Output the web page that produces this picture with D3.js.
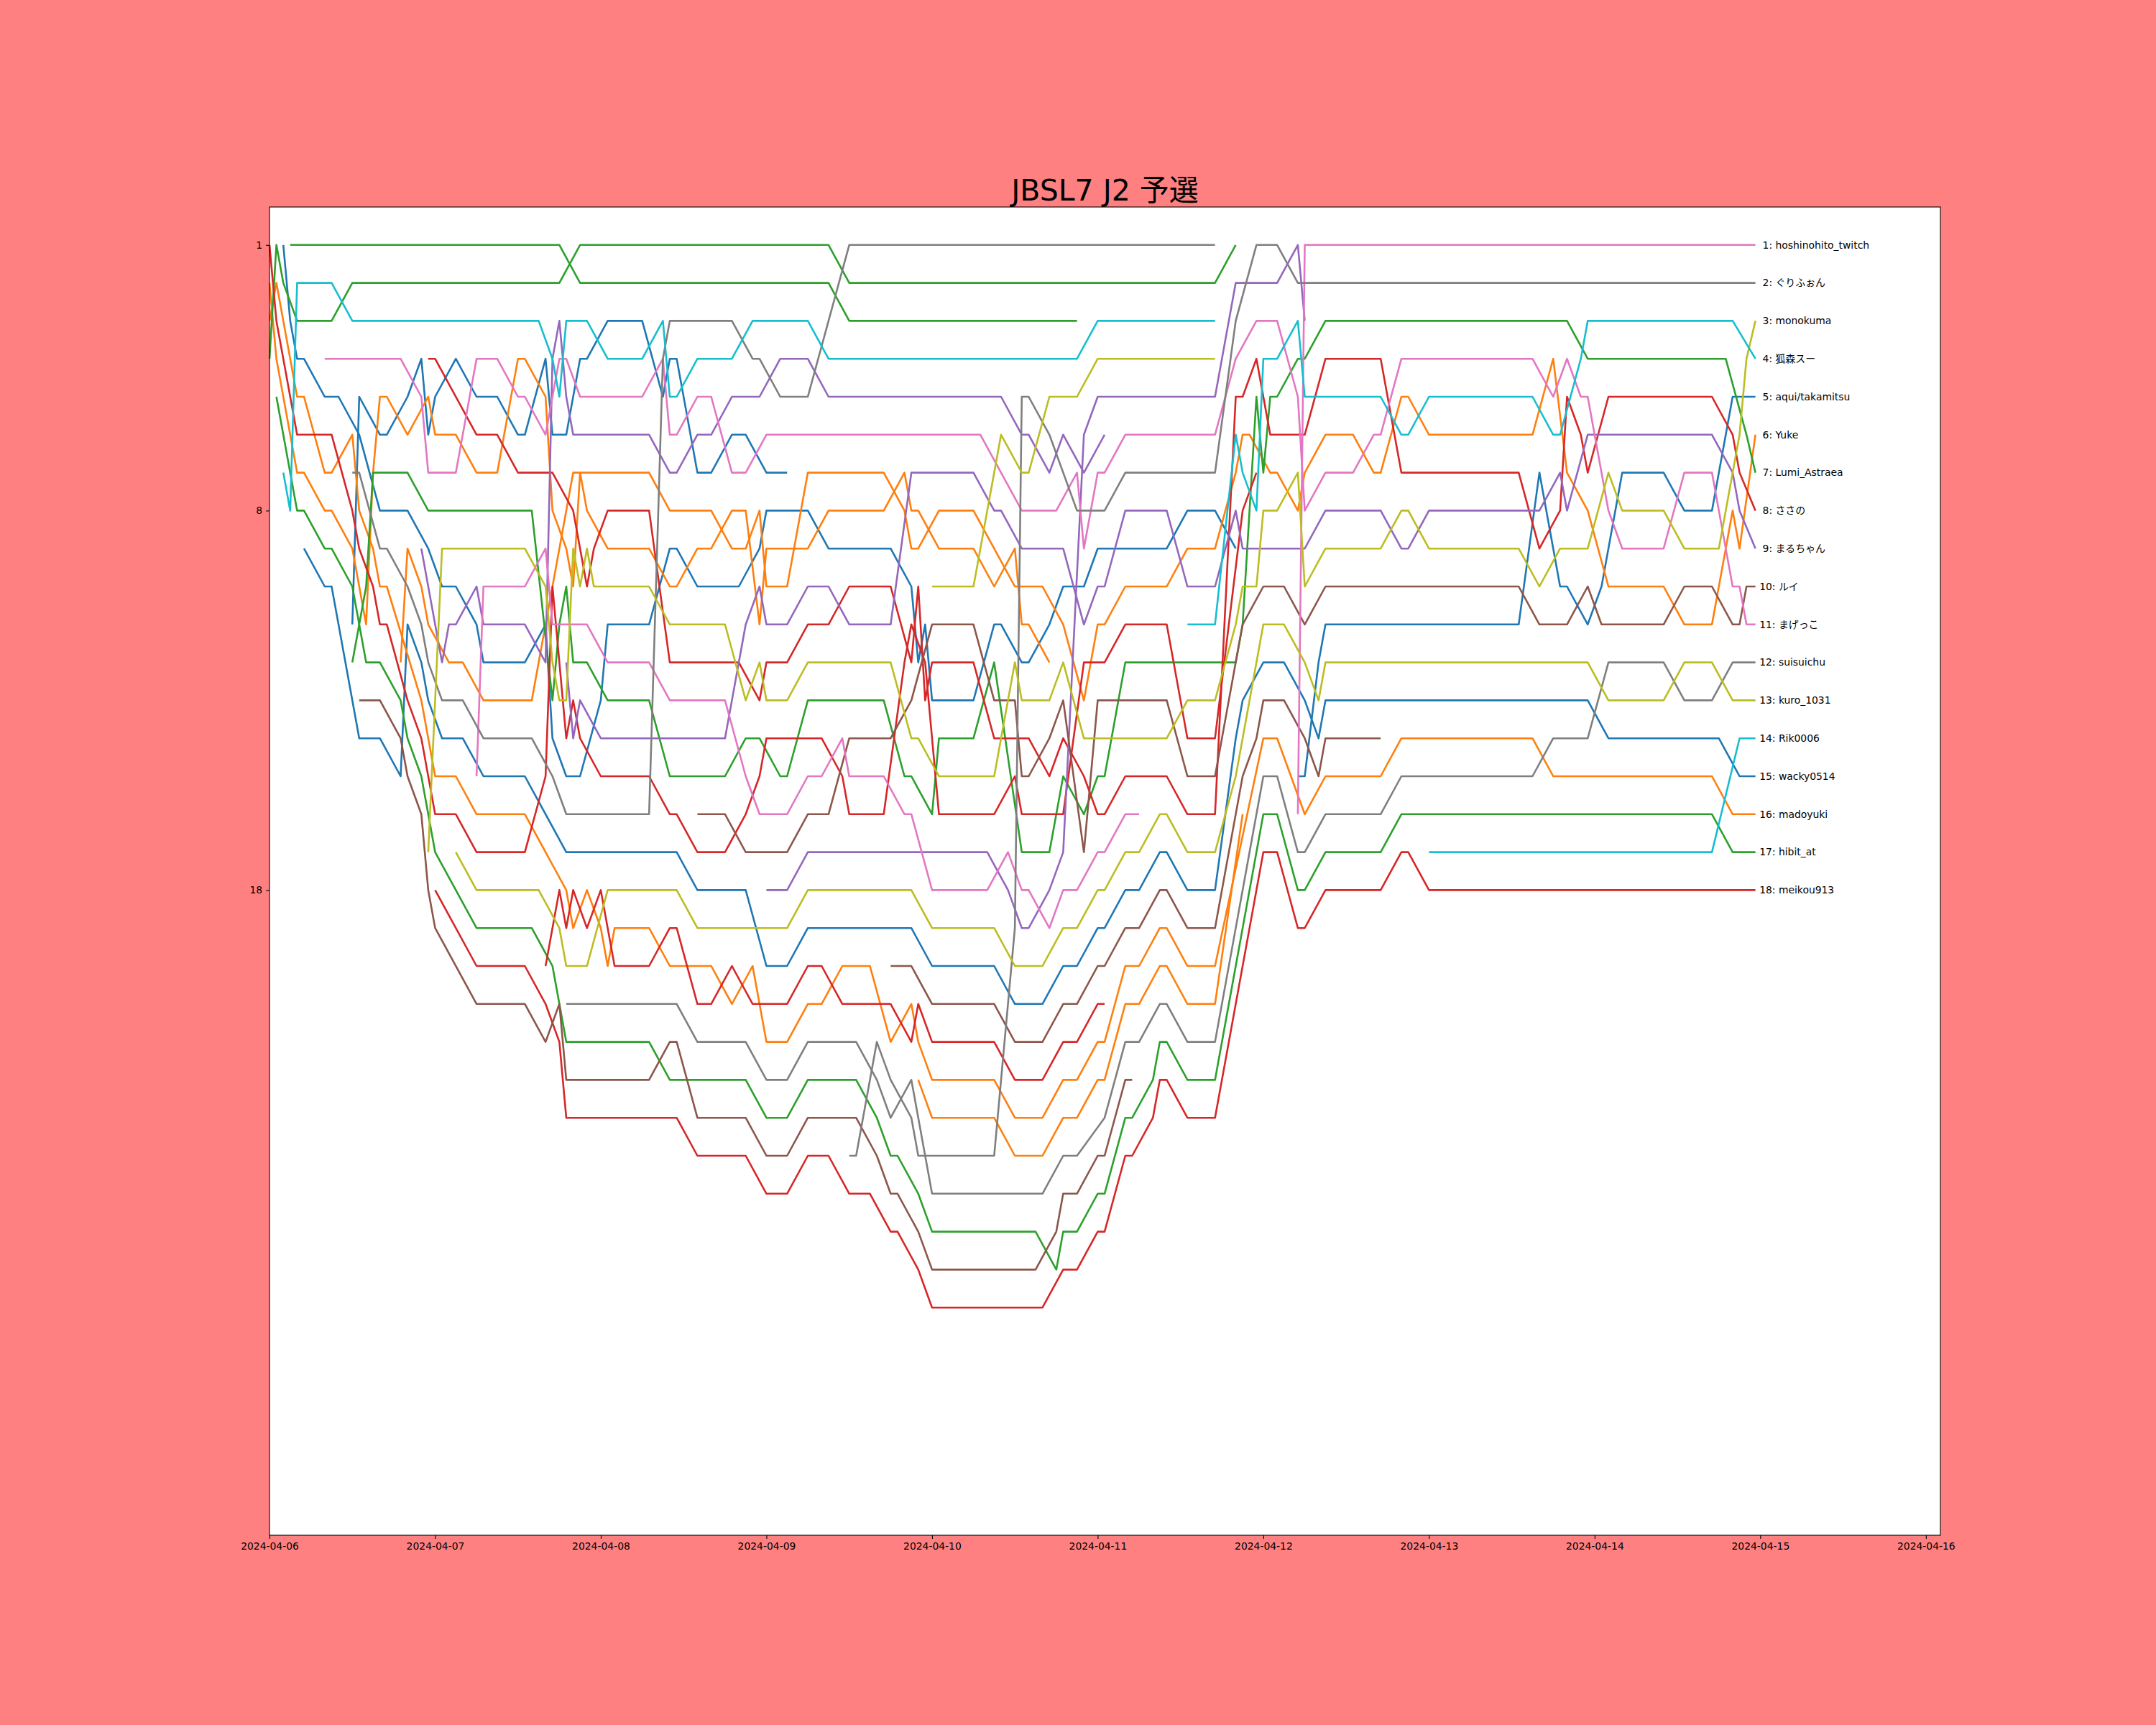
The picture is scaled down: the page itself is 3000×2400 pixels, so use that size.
<!DOCTYPE html>
<html lang="ja">
<head>
  <meta charset="utf-8">
  <title>JBSL7 J2 予選</title>
  <script src="https://d3js.org/d3.v7.min.js"></script>
  <style>
    body { margin: 0; background: #ff8080; }
    svg text { font-family: "DejaVu Sans", "Noto Sans CJK JP", sans-serif; }
    .axis path { display: none; }
    .axis line { stroke: #000; stroke-width: 1.1; }
    .axis text { font-size: 13.9px; fill: #000; }
    path.rank { fill: none; stroke-width: 2.6; stroke-linejoin: round; stroke-linecap: butt; }
    text.name { font-size: 13.9px; white-space: pre; }
  </style>
</head>
<body>
<div id="chart"></div>
<script>
// ---------------- DATA ----------------
// every point is [hours since 2024-04-06 00:00, rank]
var dayTicks = ["2024-04-06", "2024-04-07", "2024-04-08", "2024-04-09", "2024-04-10", "2024-04-11",
                "2024-04-12", "2024-04-13", "2024-04-14", "2024-04-15", "2024-04-16"];
var rankTicks = [1, 8, 18];
var finalNames = ["hoshinohito_twitch", "ぐりふぉん", "monokuma", "狐森スー", "aqui/takamitsu", "Yuke",
                  "Lumi_Astraea", "ささの", "まるちゃん", "ルイ", "まげっこ", "suisuichu", "kuro_1031",
                  "Rik0006", "wacky0514", "madoyuki", "hibit_at", "meikou913"];

var greenA = [[3,1],[42,1],[45,2],[81,2],[84,3],[117,3]];
var greenB = [[0,4],[1,1],[2,2],[4,3],[9,3],[12,2],[42,2],[45,1],[81,1],[84,2],[137,2],[140,1]];
var hibit = [[1,5],[4,8],[5,8],[8,9],[9,9],[12,10],[14,12],[16,12],[19,13],[20,14],[22,15],[24,17],[30,19],[38,19],
  [41,20],[43,22],[55,22],[58,23],[69,23],[72,24],[75,24],[78,23],[85,23],[88,24],[90,25],[91,25],[94,26],[96,27],
  [111,27],[114,28],[115,27],[117,27],[120,26],[121,26],[124,24],[125,24],[128,23],[129,22],[130,22],[133,23],
  [137,23],[144,16],[146,16],[149,18],[150,18],[153,17],[161,17],[164,16],[209,16],[212,17],[215.3,17]];
var lumi = [[12,12],[14,10],[15,7],[20,7],[23,8],[38,8],[41,13],[42,11],[43,10],[44,12],[46,12],[49,13],[55,13],
  [58,15],[66,15],[69,14],[71,14],[74,15],[75,15],[78,13],[89,13],[92,15],[93,15],[96,16],[97,14],[102,14],
  [105,12],[109,17],[113,17],[115,15],[118,16],[120,15],[121,15],[124,12],[140,12],[141,11],[143,5],[144,7],
  [145,5],[146,5],[149,4],[150,4],[153,3],[188,3],[191,4],[211,4],[214,6],[215.3,7]];
var cyanA = [[2,7],[3,8],[4,2],[9,2],[12,3],[39,3],[41,4],[42,5],[43,3],[46,3],[49,4],[54,4],[57,3],[58,5],
  [59,5],[62,4],[67,4],[70,3],[78,3],[81,4],[117,4],[120,3],[137,3]];
var kitsune = [[133,11],[137,11],[140,6],[141,7],[143,8],[144,4],[146,4],[149,3],[150,5],[161,5],[164,6],[165,6],
  [168,5],[183,5],[186,6],[187,6],[190,4],[191,3],[212,3],[215.3,4]];
var rik = [[168,17],[209,17],[213,14],[215.3,14]];
var grayX = [[12,7],[13,7],[16,9],[17,9],[20,10],[22,11],[23,12],[25,13],[28,13],[31,14],[38,14],[41,15],[43,16],
  [55,16],[57,4],[58,3],[67,3],[70,4],[71,4],[74,5],[78,5],[84,1],[137,1]];
var gurifon = [[84,25],[85,25],[88,22],[90,23],[93,24],[94,25],[105,25],[108,19],[109,5],[110,5],[113,6],[117,8],
  [121,8],[124,7],[137,7],[140,3],[143,1],[146,1],[149,2],[215.3,2]];
var suisui = [[43,21],[59,21],[62,22],[69,22],[72,23],[75,23],[78,22],[85,22],[88,23],[90,24],[93,23],[96,26],
  [112,26],[115,25],[117,25],[121,24],[124,22],[126,22],[129,21],[130,21],[133,22],[137,22],[144,15],[146,15],
  [149,17],[150,17],[153,16],[161,16],[164,15],[183,15],[186,14],[191,14],[194,12],[202,12],[205,13],[209,13],
  [212,12],[215.3,12]];
var purpleA = [[22,9],[25,12],[26,11],[27,11],[30,10],[31,11],[37,11],[40,12],[41,4],[42,3],[43,5],[44,6],[55,6],
  [58,7],[59,7],[62,6],[64,6],[67,5],[71,5],[74,4],[78,4],[81,5],[106,5],[109,6],[110,6],[113,7],[115,6],
  [118,7],[121,6]];
var purpleB = [[72,18],[75,18],[78,17],[104,17],[107,18],[109,19],[110,19],[113,18],[115,17],[118,6],[120,5],
  [137,5],[140,2],[146,2],[149,1],[150,3]];
var maru = [[43,12],[44,14],[45,13],[48,14],[66,14],[69,11],[71,10],[72,11],[75,11],[78,10],[81,10],[84,11],
  [90,11],[93,7],[102,7],[105,8],[106,8],[109,9],[115,9],[118,11],[120,10],[121,10],[124,8],[130,8],[133,10],
  [137,10],[140,8],[141,9],[150,9],[153,8],[161,8],[164,9],[165,9],[168,8],[184,8],[187,7],[188,8],[191,6],
  [209,6],[212,7],[213,8],[215.3,9]];
var mage = [[8,4],[19,4],[22,5],[23,7],[27,7],[30,4],[33,4],[36,5],[37,5],[40,6],[42,4],[43,4],[45,5],[54,5],
  [57,4],[58,6],[59,6],[62,5],[64,5],[67,7],[69,7],[72,6],[103,6],[109,8],[114,8],[117,7],[118,9],[120,7],
  [121,7],[124,6],[137,6],[140,4],[143,3],[146,3],[149,5],[150,8],[153,7],[157,7],[160,6],[161,6],[164,4],
  [183,4],[186,5],[188,4],[190,5],[191,5],[194,8],[196,9],[202,9],[205,7],[209,7],[212,10],[213,10],[214,11],
  [215.3,11]];
var pinkB = [[30,15],[31,10],[37,10],[40,9],[41,11],[43,11],[46,11],[49,12],[55,12],[58,13],[66,13],[69,15],
  [71,16],[75,16],[78,15],[80,15],[83,14],[84,15],[89,15],[92,16],[93,16],[96,18],[104,18],[107,17],[109,18],
  [110,18],[113,19],[115,18],[117,18],[120,17],[121,17],[124,16],[126,16]];
var hoshi = [[149,16],[150,1],[215.3,1]];
var mono = [[23,17],[25,9],[37,9],[40,10],[41,12],[42,13],[43,13],[44,9],[45,10],[46,9],[47,10],[55,10],[58,11],
  [66,11],[69,13],[71,12],[72,13],[75,13],[78,12],[90,12],[93,14],[94,14],[97,15],[105,15],[108,12],[109,13],
  [113,13],[115,12],[118,14],[130,14],[133,13],[137,13],[140,11],[141,10],[143,10],[144,8],[146,8],[149,7],
  [150,10],[153,9],[161,9],[164,8],[165,8],[168,9],[181,9],[184,10],[187,9],[191,9],[194,7],[196,8],[202,8],
  [205,9],[210,9],[213,6],[214,4],[215.3,3]];
var oliveB = [[96,10],[102,10],[106,6],[109,7],[110,7],[113,5],[117,5],[120,4],[137,4]];
var kuro = [[27,17],[30,18],[39,18],[42,19],[43,20],[46,20],[49,18],[59,18],[62,19],[75,19],[78,18],[93,18],
  [96,19],[105,19],[108,20],[112,20],[115,19],[117,19],[120,18],[121,18],[124,17],[126,17],[129,16],[130,16],
  [133,17],[137,17],[140,15],[141,14],[144,11],[147,11],[150,12],[152,13],[153,12],[191,12],[194,13],[202,13],
  [205,12],[209,12],[212,13],[215.3,13]];
var sasano = [[23,4],[24,4],[30,6],[33,6],[36,7],[41,7],[44,8],[46,10],[47,9],[49,8],[55,8],[58,12],[68,12],
  [71,13],[72,12],[75,12],[78,11],[81,11],[84,10],[90,10],[93,12],[94,10],[95,13],[96,12],[102,12],[105,14],
  [110,14],[113,15],[115,14],[118,15],[120,16],[121,16],[124,15],[130,15],[133,16],[137,16],[140,5],[141,5],
  [143,4],[145,6],[150,6],[153,4],[161,4],[164,7],[181,7],[184,9],[187,8],[188,5],[190,6],[191,7],[194,5],
  [209,5],[212,6],[213,7],[215.3,8]];
var redE = [[0,1],[1,3],[4,6],[9,6],[12,8],[13,9],[15,10],[16,11],[17,11],[20,13],[22,14],[24,16],[27,16],
  [30,17],[37,17],[40,15],[41,10],[43,14],[44,13],[45,14],[48,15],[55,15],[58,16],[59,16],[62,17],[66,17],
  [69,16],[71,15],[72,14],[80,14],[83,15],[84,16],[89,16],[92,12],[93,11],[95,12],[97,16],[105,16],[108,15],
  [109,16],[115,16],[118,12],[121,12],[124,11],[130,11],[133,14],[137,14],[141,8],[143,7]];
var redC = [[40,20],[42,18],[43,19],[44,18],[46,19],[48,18],[50,20],[55,20],[58,19],[59,19],[62,21],[64,21],
  [67,20],[70,21],[75,21],[78,20],[80,20],[83,21],[90,21],[93,22],[94,21],[96,22],[105,22],[108,23],[112,23],
  [115,22],[117,22],[120,21],[121,21]];
var meikou = [[24,18],[30,20],[37,20],[40,21],[42,22],[43,24],[59,24],[62,25],[69,25],[72,26],[75,26],[78,25],
  [81,25],[84,26],[87,26],[90,27],[91,27],[94,28],[96,29],[112,29],[115,28],[117,28],[120,27],[121,27],
  [124,25],[125,25],[128,24],[129,23],[130,23],[133,24],[137,24],[144,17],[146,17],[149,19],[150,19],[153,18],
  [161,18],[164,17],[165,17],[168,18],[215.3,18]];
var brownA = [[13,13],[16,13],[19,14],[20,15],[22,16],[23,18],[24,19],[30,21],[37,21],[40,22],[42,21],[43,23],
  [55,23],[58,22],[59,22],[62,24],[69,24],[72,25],[75,25],[78,24],[85,24],[88,25],[90,26],[91,26],[94,27],
  [96,28],[111,28],[114,27],[115,26],[117,26],[120,25],[121,25],[124,23],[125,23]];
var rui = [[62,16],[66,16],[69,17],[75,17],[78,16],[81,16],[84,14],[90,14],[93,13],[96,11],[102,11],[105,13],
  [108,13],[109,15],[110,15],[113,14],[115,13],[118,17],[120,13],[130,13],[133,15],[137,15],[140,12],[141,11],
  [144,10],[147,10],[150,11],[153,10],[181,10],[184,11],[188,11],[191,10],[193,11],[202,11],[205,10],[209,10],
  [212,11],[213,11],[214,10],[215.3,10]];
var brownB = [[90,20],[93,20],[96,21],[105,21],[108,22],[112,22],[115,21],[117,21],[120,20],[121,20],[124,19],
  [126,19],[129,18],[130,18],[133,19],[137,19],[141,15],[143,14],[144,13],[147,13],[150,14],[152,15],[153,14],
  [161,14]];
var wacky = [[5,9],[8,10],[9,10],[13,14],[16,14],[19,15],[20,11],[22,12],[23,13],[25,14],[28,14],[31,15],[37,15],
  [43,17],[59,17],[62,18],[69,18],[72,20],[75,20],[78,19],[93,19],[96,20],[105,20],[108,21],[112,21],[115,20],
  [117,20],[120,19],[121,19],[124,18],[126,18],[129,17],[130,17],[133,18],[137,18],[140,14],[141,13],[144,12],
  [147,12],[150,13],[152,14],[153,13],[191,13],[194,14],[210,14],[213,15],[215.3,15]];
var blueA = [[2,1],[3,3],[4,4],[5,4],[8,5],[10,5],[13,6],[16,8],[20,8],[23,9],[25,10],[27,10],[30,11],[31,12],
  [37,12],[40,11],[41,14],[43,15],[45,15],[48,13],[49,11],[55,11],[58,9],[59,9],[62,10],[68,10],[71,9],[72,8],
  [78,8],[81,9],[90,9],[93,10],[94,12],[95,11],[96,13],[102,13],[105,11],[106,11],[109,12],[110,12],[113,11],
  [115,10],[118,10],[120,9],[130,9],[133,8],[137,8],[140,9]];
var blueC = [[12,11],[13,5],[16,6],[17,6],[20,5],[22,4],[23,6],[24,5],[27,4],[30,5],[33,5],[36,6],[37,6],[40,4],
  [41,6],[43,6],[45,4],[46,4],[49,3],[54,3],[57,5],[58,4],[59,4],[62,7],[64,7],[67,6],[69,6],[72,7],[75,7]];
var aqui = [[149,15],[150,15],[152,12],[153,11],[181,11],[184,7],[187,10],[188,10],[191,11],[193,10],[196,7],
  [202,7],[205,8],[209,8],[212,5],[215.3,5]];
var yuke = [[19,12],[20,9],[22,10],[23,11],[26,12],[28,12],[31,13],[38,13],[40,11],[42,9],[44,7],[55,7],[58,8],
  [64,8],[67,9],[69,9],[71,8],[72,10],[75,10],[78,7],[89,7],[92,8],[93,9],[94,9],[97,8],[102,8],[108,10],
  [112,10],[115,11],[118,13],[120,11],[121,11],[124,10],[130,10],[133,9],[137,9],[140,7],[141,6],[142,6],
  [145,7],[146,7],[149,8],[150,7],[153,6],[157,6],[160,7],[161,7],[164,5],[165,5],[168,6],[183,6],[186,4],
  [188,7],[191,8],[194,10],[202,10],[205,11],[209,11],[212,8],[213,9],[215.3,6]];
var orangeA = [[0,2],[1,4],[4,7],[5,7],[8,8],[9,8],[12,9],[13,10],[14,11],[15,7],[16,5],[17,5],[20,6],[23,5],
  [24,6],[27,6],[30,7],[33,7],[36,4],[37,4],[40,5],[41,8],[43,9],[44,10],[45,7],[46,8],[49,9],[55,9],[58,10],
  [59,10],[62,9],[64,9],[67,8],[69,8],[71,11],[72,9],[78,9],[81,8],[89,8],[92,7],[93,8],[94,8],[97,9],
  [102,9],[105,10],[108,9],[109,11],[110,11],[113,12]];
var madoyuki = [[0,3],[1,2],[2,3],[4,5],[5,5],[8,7],[9,7],[12,6],[13,8],[15,9],[16,10],[17,10],[22,13],[24,15],
  [27,15],[30,16],[37,16],[43,18],[44,19],[46,18],[48,19],[49,20],[50,19],[55,19],[58,20],[64,20],[67,21],
  [70,20],[72,22],[75,22],[78,21],[80,21],[83,20],[87,20],[90,22],[93,21],[94,22],[96,23],[105,23],[108,24],
  [112,24],[115,23],[117,23],[120,22],[121,22],[124,20],[126,20],[129,19],[130,19],[133,20],[137,20],[144,14],
  [146,14],[150,16],[153,15],[161,15],[164,14],[183,14],[186,15],[209,15],[212,16],[215.3,16]];
var orangeD = [[94,23],[96,24],[105,24],[108,25],[112,25],[115,24],[117,24],[120,23],[121,23],[124,21],[126,21],
  [129,20],[130,20],[133,21],[137,21],[141,16]];

// ---------------- CANVAS ----------------
var W = 3000, H = 2400;
var plotLeft = 375, plotRight = 2700, plotTop = 288, plotBottom = 2136;

var tab10 = {
  blue: "#1f77b4", orange: "#ff7f0e", green: "#2ca02c", red: "#d62728", purple: "#9467bd",
  brown: "#8c564b", pink: "#e377c2", gray: "#7f7f7f", olive: "#bcbd22", cyan: "#17becf"
};

var series = [
  [blueA, "blue"], [blueC, "blue"], [wacky, "blue"], [aqui, "blue"],
  [orangeA, "orange"], [madoyuki, "orange"], [orangeD, "orange"], [yuke, "orange"],
  [greenA, "green"], [greenB, "green"], [hibit, "green"], [lumi, "green"],
  [redE, "red"], [redC, "red"], [meikou, "red"], [sasano, "red"],
  [purpleA, "purple"], [purpleB, "purple"], [maru, "purple"],
  [brownA, "brown"], [brownB, "brown"], [rui, "brown"],
  [pinkB, "pink"], [mage, "pink"], [hoshi, "pink"],
  [grayX, "gray"], [suisui, "gray"], [gurifon, "gray"],
  [oliveB, "olive"], [kuro, "olive"], [mono, "olive"],
  [cyanA, "cyan"], [rik, "cyan"], [kitsune, "cyan"]
];

var startDay = new Date(2024, 3, 6, 0, 0, 0);
function hourToDate(h) { return new Date(startDay.getTime() + h * 3600 * 1000); }
var parseDay = d3.timeParse("%Y-%m-%d");

var svg = d3.select("#chart").append("svg")
  .attr("width", W)
  .attr("height", H);

svg.append("rect")
  .attr("width", W).attr("height", H)
  .attr("fill", "#ff8080");

var xScale = d3.scaleTime()
  .domain([startDay, hourToDate(242.1)])
  .range([plotLeft, plotRight]);

var yScale = d3.scaleLinear()
  .domain([0, 35])
  .range([plotTop, plotBottom]);

// plot area
svg.append("rect")
  .attr("x", plotLeft).attr("y", plotTop)
  .attr("width", plotRight - plotLeft).attr("height", plotBottom - plotTop)
  .attr("fill", "#fff");

// LINES
var lineGenerator = d3.line()
  .x(function (d) { return xScale(hourToDate(d[0])); })
  .y(function (d) { return yScale(d[1]); });

svg.append("g").selectAll("path")
  .data(series)
  .enter().append("path")
  .attr("class", "rank")
  .attr("stroke", function (d) { return tab10[d[1]]; })
  .attr("d", function (d) { return lineGenerator(d[0]); });

// NAMES AT THE RIGHT
var endX = xScale(hourToDate(215.3));
svg.append("g").selectAll("text")
  .data(finalNames)
  .enter().append("text")
  .attr("class", "name")
  .attr("x", endX + 5.5)
  .attr("y", function (d, i) { return yScale(i + 1); })
  .attr("dy", "0.35em")
  .text(function (d, i) { return (i + 1 < 10 ? " " : "") + (i + 1) + ": " + d; });

// AXES
var xAxis = d3.axisBottom(xScale)
  .tickValues(dayTicks.map(parseDay))
  .tickFormat(d3.timeFormat("%Y-%m-%d"))
  .tickSize(4.9)
  .tickPadding(4.9);

svg.append("g")
  .attr("class", "axis")
  .attr("transform", "translate(0," + plotBottom + ")")
  .call(xAxis);

var yAxis = d3.axisLeft(yScale)
  .tickValues(rankTicks)
  .tickSize(4.9)
  .tickPadding(4.9);

svg.append("g")
  .attr("class", "axis")
  .attr("transform", "translate(" + plotLeft + ",0)")
  .call(yAxis);

// frame
svg.append("rect")
  .attr("x", plotLeft).attr("y", plotTop)
  .attr("width", plotRight - plotLeft).attr("height", plotBottom - plotTop)
  .attr("fill", "none")
  .attr("stroke", "#000")
  .attr("stroke-width", 1.1);

// TITLE
svg.append("text")
  .attr("x", (plotLeft + plotRight) / 2)
  .attr("y", plotTop - 9)
  .attr("text-anchor", "middle")
  .style("font-size", "41px")
  .text("JBSL7 J2 予選");
</script>
</body>
</html>
